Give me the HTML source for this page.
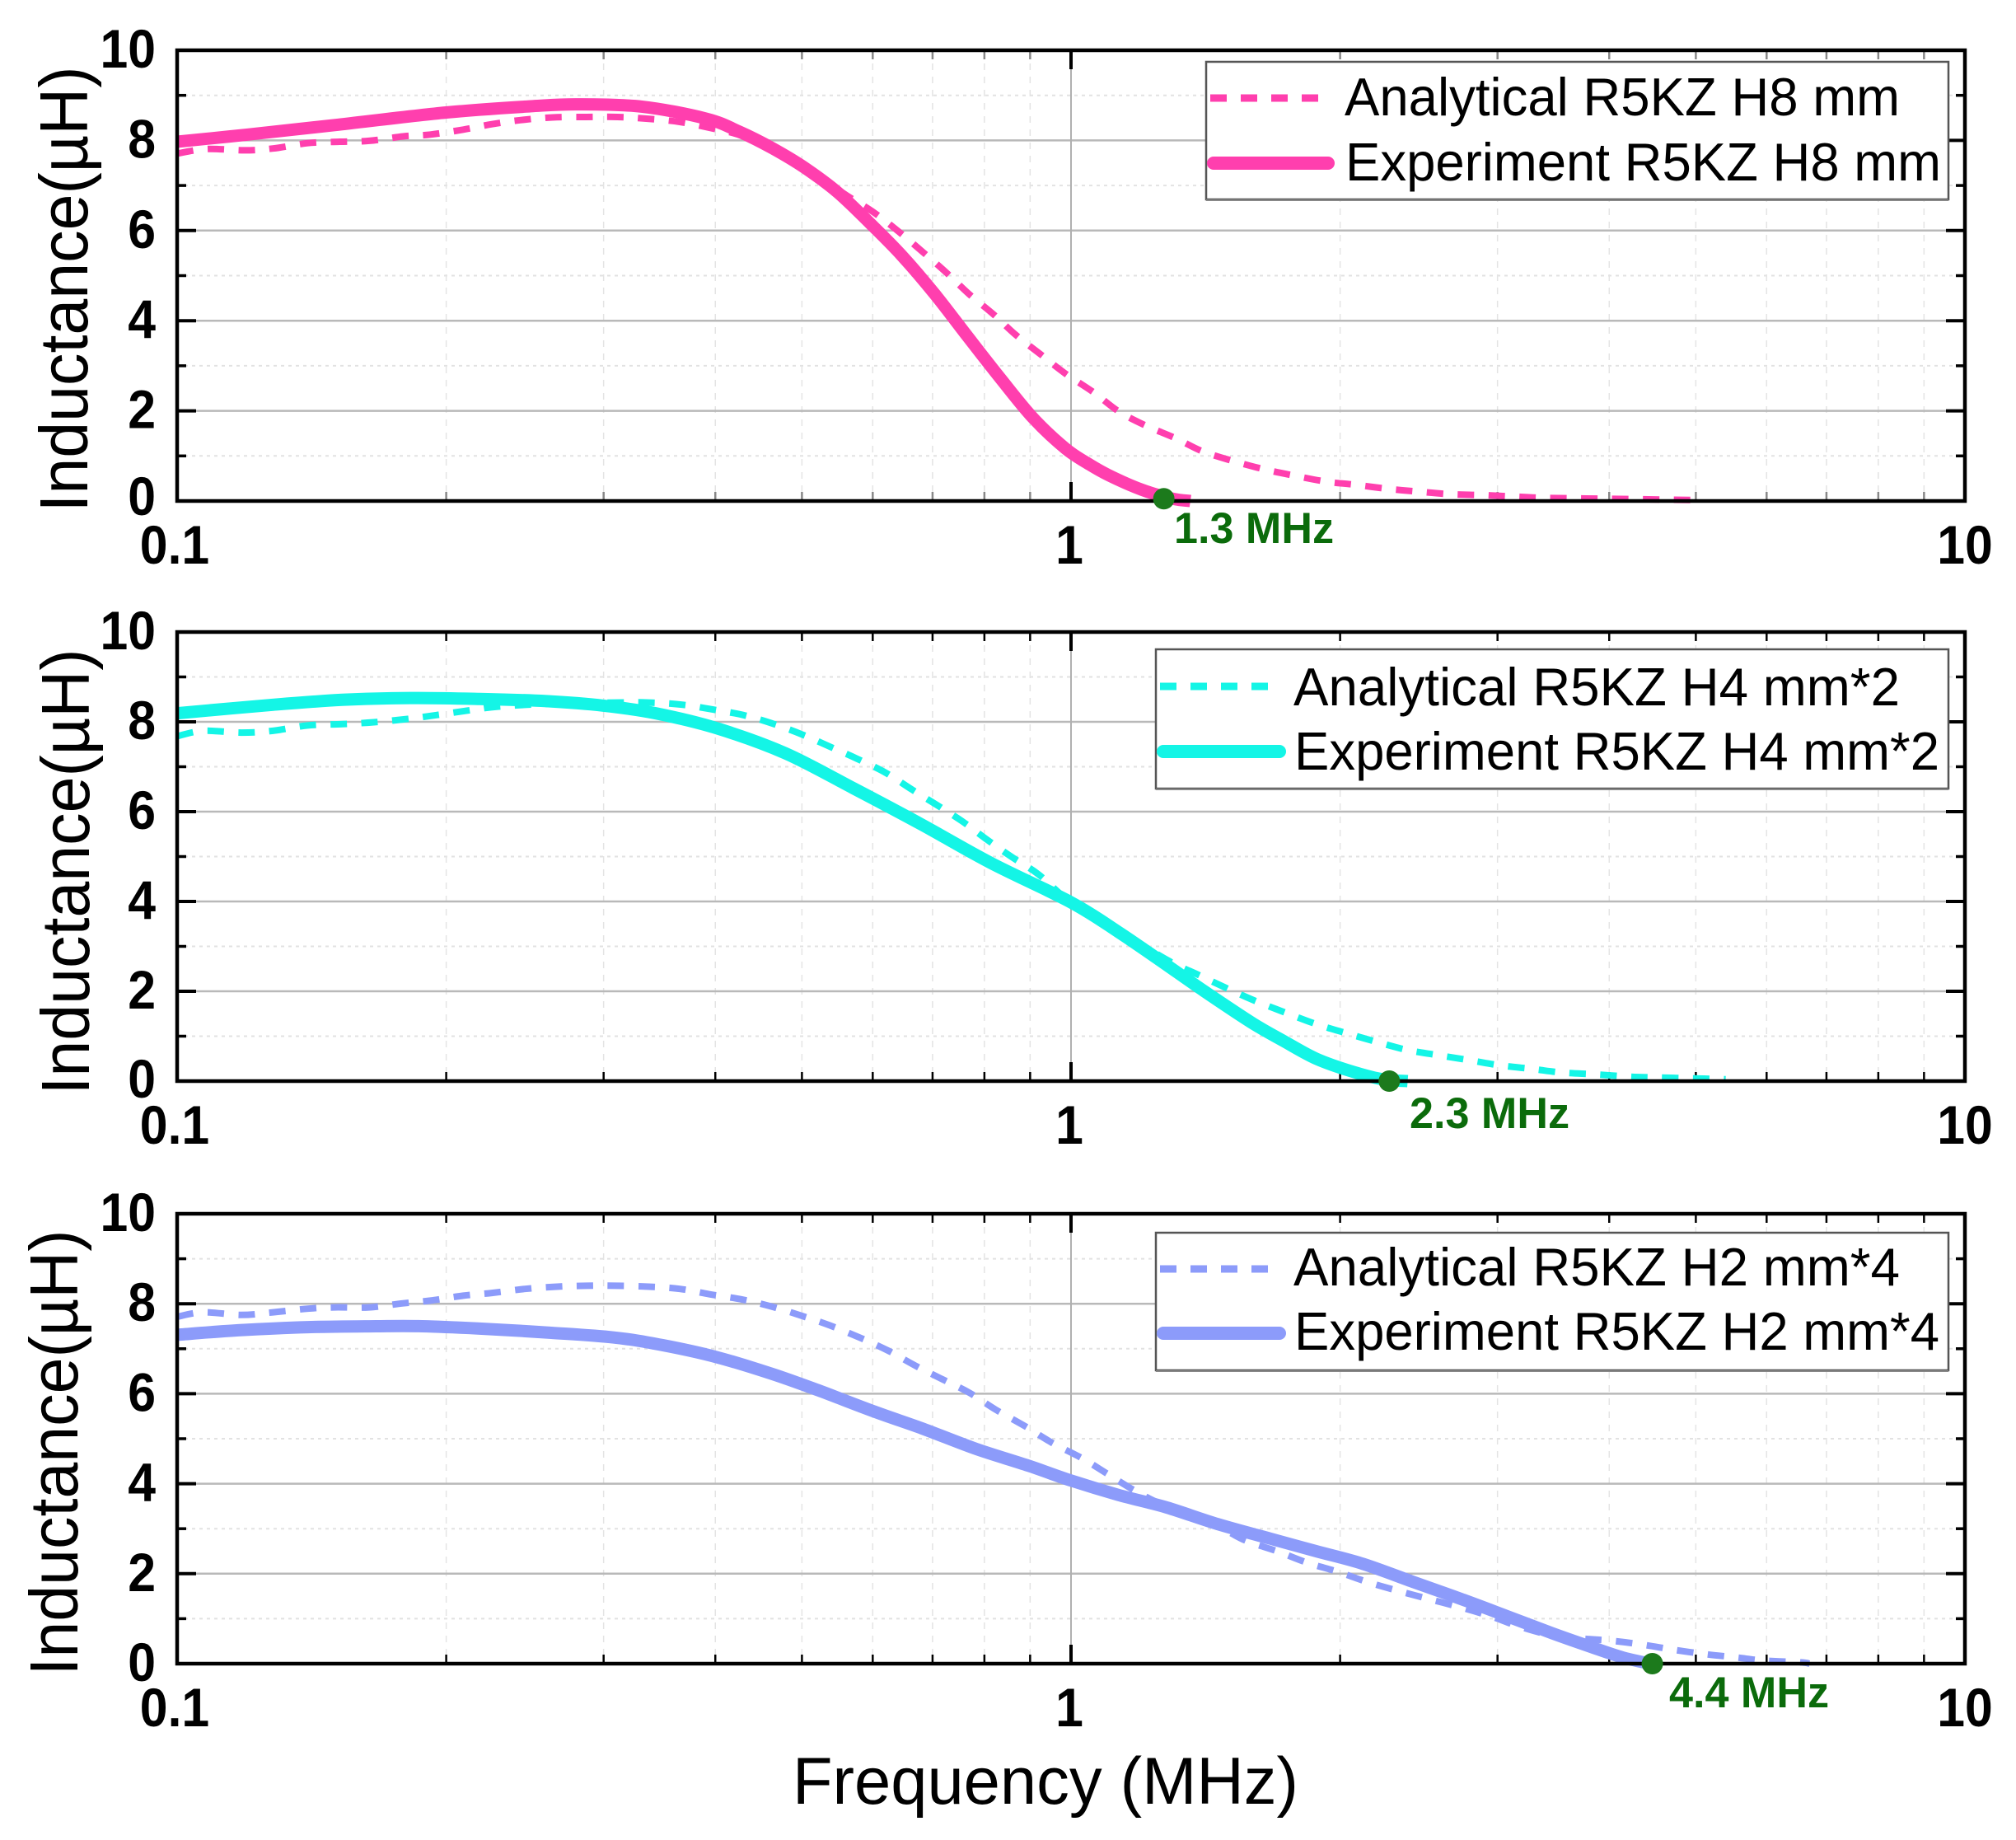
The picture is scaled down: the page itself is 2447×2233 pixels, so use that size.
<!DOCTYPE html>
<html lang="en">
<head>
<meta charset="utf-8">
<title>Inductance vs Frequency</title>
<style>
html,body{margin:0;padding:0;background:#fff;}
svg{display:block;}
text{font-family:"Liberation Sans",sans-serif;}
</style>
</head>
<body>
<svg id="chart" xmlns="http://www.w3.org/2000/svg" width="2447" height="2233" viewBox="0 0 2447 2233"></svg>
<script>
// ---- Shared axis labels ----
const yTickLabels = [0, 2, 4, 6, 8, 10];
const yMinorValues = [1, 3, 5, 7, 9];
const xTickLabels = [0.1, 1, 10];
const xMinorFreqs = [0.2, 0.3, 0.4, 0.5, 0.6, 0.7, 0.8, 0.9, 2, 3, 4, 5, 6, 7, 8, 9];

// ---- H8 mm ----
const h8AnalyticalFreq = [0.1,0.108,0.119,0.128,0.14,0.152,0.164,0.179,0.192,0.209,0.225,0.242,0.263,0.287,0.311,0.336,0.365,0.396,0.43,0.47,0.52,0.561,0.603,0.642,0.684,0.725,0.769,0.819,0.868,0.925,0.985,1.06,1.13,1.21,1.31,1.4,1.51,1.64,1.77,1.93,2.08,2.26,2.44,2.66,2.89,3.12,3.39,3.98,4.68,5.05];
const h8AnalyticalValue = [7.71,7.81,7.78,7.82,7.94,7.97,7.99,8.09,8.13,8.24,8.36,8.45,8.51,8.52,8.52,8.48,8.41,8.27,8.09,7.7,7.21,6.78,6.39,5.97,5.51,5.07,4.59,4.14,3.68,3.25,2.83,2.41,1.99,1.68,1.39,1.11,0.9,0.71,0.57,0.43,0.36,0.27,0.21,0.15,0.13,0.1,0.07,0.05,0.03,0.02];
const h8ExperimentFreq = [0.1,0.12,0.15,0.2,0.25,0.28,0.331,0.391,0.426,0.463,0.503,0.548,0.596,0.647,0.704,0.766,0.833,0.906,0.985,1.043,1.1,1.2,1.3,1.36];
const h8ExperimentValue = [7.97,8.13,8.34,8.62,8.76,8.8,8.75,8.48,8.19,7.83,7.4,6.85,6.16,5.44,4.59,3.65,2.73,1.85,1.17,0.84,0.58,0.25,0.05,0];

// ---- H4 mm*2 ----
const h4AnalyticalFreq = [0.1,0.107,0.118,0.128,0.14,0.153,0.166,0.182,0.195,0.213,0.229,0.26,0.309,0.337,0.368,0.401,0.43,0.462,0.5,0.537,0.576,0.62,0.664,0.714,0.76,0.806,0.86,0.92,1,1.13,1.28,1.39,1.5,1.61,1.74,1.88,2.03,2.2,2.38,2.57,2.8,3.02,3.28,3.54,3.85,4.2,4.52,4.97,5.4];
const h4AnalyticalValue = [7.68,7.8,7.76,7.8,7.92,7.95,7.99,8.07,8.15,8.26,8.34,8.4,8.43,8.43,8.38,8.26,8.15,7.97,7.72,7.45,7.18,6.87,6.49,6.1,5.75,5.37,4.98,4.6,3.98,3.36,2.7,2.36,2.05,1.78,1.52,1.27,1.07,0.87,0.69,0.58,0.46,0.35,0.27,0.19,0.15,0.1,0.08,0.06,0.04];
const h4ExperimentFreq = [0.1,0.128,0.153,0.182,0.218,0.259,0.3,0.343,0.401,0.479,0.571,0.681,0.813,1,1.13,1.255,1.41,1.59,1.73,1.88,2.05,2.23,2.38];
const h4ExperimentValue = [8.19,8.38,8.49,8.53,8.51,8.46,8.36,8.19,7.86,7.3,6.52,5.71,4.86,3.98,3.32,2.7,2.0,1.31,0.89,0.5,0.23,0.04,0];

// ---- H2 mm*4 ----
const h2AnalyticalFreq = [0.1,0.107,0.118,0.128,0.14,0.15,0.164,0.179,0.192,0.209,0.225,0.245,0.266,0.287,0.31,0.337,0.365,0.394,0.427,0.462,0.5,0.537,0.58,0.624,0.67,0.72,0.77,0.823,0.888,0.954,1.03,1.1,1.18,1.27,1.47,1.57,1.7,1.84,1.99,2.15,2.32,2.51,2.73,2.94,3.17,3.42,3.72,4.02,4.37,4.72,5.13,5.54,5.94,6.55,6.7];
const h2AnalyticalValue = [7.71,7.81,7.75,7.81,7.89,7.92,7.92,8.01,8.07,8.18,8.24,8.33,8.38,8.4,8.4,8.38,8.33,8.21,8.1,7.94,7.73,7.52,7.25,6.96,6.62,6.31,6.02,5.65,5.28,4.9,4.56,4.21,3.84,3.52,3.01,2.73,2.5,2.24,2.04,1.81,1.62,1.44,1.25,1.06,0.83,0.65,0.56,0.51,0.42,0.31,0.21,0.14,0.07,0.03,0];
const h2ExperimentFreq = [0.1,0.117,0.14,0.167,0.188,0.217,0.259,0.308,0.349,0.402,0.463,0.524,0.603,0.681,0.784,0.896,1,1.13,1.28,1.46,1.67,1.88,2.12,2.42,2.73,3.07,3.45,3.82,4.14,4.44];
const h2ExperimentValue = [7.31,7.41,7.48,7.5,7.5,7.45,7.36,7.25,7.08,6.81,6.44,6.06,5.6,5.23,4.77,4.4,4.07,3.75,3.47,3.1,2.78,2.5,2.22,1.81,1.44,1.06,0.68,0.37,0.14,0];

// ---- Cutoff markers ----
const cutoffFreqs = [1.27, 2.27, 4.47];
const cutoffValues = [0.05, 0, 0];
const cutoffLabels = ["1.3 MHz", "2.3 MHz", "4.4 MHz"];

const NS = "http://www.w3.org/2000/svg";
const svg = document.getElementById("chart");
const LEFT = 215, RIGHT = 2385;

function xScale(f){ return LEFT + (RIGHT - LEFT) * (Math.log10(f) + 1) / 2; }
function yScaleFor(p){ return function(v){ return p.bottom - (p.bottom - p.top) * v / 10; }; }

function make(tag, attrs, parent, txt){
  const n = document.createElementNS(NS, tag);
  for (const k in attrs) n.setAttribute(k, attrs[k]);
  if (txt !== undefined) n.textContent = txt;
  parent.appendChild(n);
  return n;
}
// Smooth curve through the data points (Catmull-Rom as cubic beziers)
function curveOf(freqs, values, y){
  const pts = freqs.map(function(f, i){ return [xScale(f), y(values[i])]; });
  let d = "M" + pts[0][0].toFixed(1) + " " + pts[0][1].toFixed(1);
  for (let i = 0; i < pts.length - 1; i++){
    const p0 = pts[Math.max(i - 1, 0)], p1 = pts[i], p2 = pts[i + 1], p3 = pts[Math.min(i + 2, pts.length - 1)];
    const c1x = p1[0] + (p2[0] - p0[0]) / 6, c1y = p1[1] + (p2[1] - p0[1]) / 6;
    const c2x = p2[0] - (p3[0] - p1[0]) / 6, c2y = p2[1] - (p3[1] - p1[1]) / 6;
    d += " C" + c1x.toFixed(1) + " " + c1y.toFixed(1) + " " + c2x.toFixed(1) + " " + c2y.toFixed(1) + " " + p2[0].toFixed(1) + " " + p2[1].toFixed(1);
  }
  return d;
}
function tickWidth(label, size){
  const s = String(label);
  let em = 0;
  for (const ch of s) em += ch === "." ? 0.278 : 0.556;
  return (em * size * 0.92).toFixed(1);
}

const panels = [
  {key:"h8", top:61, bottom:608, color:"#ff3fae", aF:h8AnalyticalFreq, aV:h8AnalyticalValue, eF:h8ExperimentFreq, eV:h8ExperimentValue,
   legend:{x:1464,y:75,w:901,h:167,tx:1632,aB:140,eB:219,aLen:674,eLen:723,dx1:1469,dx2:1602,sx1:1473,sx2:1612,dy:119,sy:198,a:"Analytical R5KZ H8 mm",e:"Experiment R5KZ H8 mm"},
   titleX:106, titleC:351, xLabelB:684, labelDx:1425, labelB:659, zeroShift:-6},
  {key:"h4", top:767, bottom:1312, color:"#14f5e6", aF:h4AnalyticalFreq, aV:h4AnalyticalValue, eF:h4ExperimentFreq, eV:h4ExperimentValue,
   legend:{x:1403,y:788,w:962,h:169,tx:1570,aB:856,eB:934,aLen:736,eLen:783,dx1:1408,dx2:1542,sx1:1412,sx2:1553,dy:833,sy:912,a:"Analytical R5KZ H4 mm*2",e:"Experiment R5KZ H4 mm*2"},
   titleX:108, titleC:1058, xLabelB:1388, labelDx:1711, labelB:1369, zeroShift:-3},
  {key:"h2", top:1473, bottom:2019, color:"#8c9bfa", aF:h2AnalyticalFreq, aV:h2AnalyticalValue, eF:h2ExperimentFreq, eV:h2ExperimentValue,
   legend:{x:1403,y:1496,w:962,h:167,tx:1570,aB:1560,eB:1638,aLen:736,eLen:783,dx1:1408,dx2:1542,sx1:1412,sx2:1553,dy:1540,sy:1618,a:"Analytical R5KZ H2 mm*4",e:"Experiment R5KZ H2 mm*4"},
   titleX:94, titleC:1763, xLabelB:2095, labelDx:2026, labelB:2072, zeroShift:-2}
];

panels.forEach(function(p, idx){
  const y = yScaleFor(p);
  const g = make("g", {}, svg);
  
  

  // grid
  const grid = make("g", {}, g);
  
  
  yMinorValues.forEach(function(v){
    make("line", {x1:LEFT, x2:RIGHT, y1:y(v), y2:y(v), stroke:"#e2e2e2", "stroke-width":2, "stroke-dasharray":"4 5"}, grid);
  });
  xMinorFreqs.forEach(function(f){
    make("line", {x1:xScale(f), x2:xScale(f), y1:p.top, y2:p.bottom, stroke:"#e4e4e4", "stroke-width":1.5, "stroke-dasharray":"8 8"}, grid);
  });
  yTickLabels.slice(1, 5).forEach(function(v){
    make("line", {x1:LEFT, x2:RIGHT, y1:y(v), y2:y(v), stroke:"#b9b9b9", "stroke-width":2.5}, grid);
  });
  make("line", {x1:xScale(1), x2:xScale(1), y1:p.top, y2:p.bottom, stroke:"#b0b0b0", "stroke-width":2}, grid);

  // ticks
  const ticks = make("g", {stroke:"#000"}, g);
  
  
  yTickLabels.forEach(function(v){
    make("line", {x1:LEFT, x2:LEFT + 23, y1:y(v), y2:y(v), "stroke-width":4}, ticks);
    make("line", {x1:RIGHT - 23, x2:RIGHT, y1:y(v), y2:y(v), "stroke-width":4}, ticks);
  });
  yMinorValues.forEach(function(v){
    make("line", {x1:LEFT, x2:LEFT + 11, y1:y(v), y2:y(v), "stroke-width":3.5}, ticks);
    make("line", {x1:RIGHT - 11, x2:RIGHT, y1:y(v), y2:y(v), "stroke-width":3.5}, ticks);
  });
  xMinorFreqs.forEach(function(f){
    const c = idx === 0 ? "#888" : "#000";
    make("line", {x1:xScale(f), x2:xScale(f), y1:p.top, y2:p.top + 11, "stroke-width":2.5, stroke:c}, ticks);
    make("line", {x1:xScale(f), x2:xScale(f), y1:p.bottom - 11, y2:p.bottom, "stroke-width":2.5, stroke:c}, ticks);
  });
  make("line", {x1:xScale(1), x2:xScale(1), y1:p.top, y2:p.top + 23, "stroke-width":4}, ticks);
  make("line", {x1:xScale(1), x2:xScale(1), y1:p.bottom - 23, y2:p.bottom, "stroke-width":4}, ticks);

  // series
  const analytical = make("path", {d:curveOf(p.aF, p.aV, y), fill:"none", stroke:p.color, "stroke-width":8, "stroke-dasharray":"20 17.5", "stroke-linejoin":"round"}, g);
  
  
  const experiment = make("path", {d:curveOf(p.eF, p.eV, y), fill:"none", stroke:p.color, "stroke-width":15, "stroke-linejoin":"round"}, g);
  
  

  // frame
  const frame = make("rect", {x:LEFT, y:p.top, width:RIGHT - LEFT, height:p.bottom - p.top, fill:"none", stroke:"#000", "stroke-width":4.5}, g);
  
  

  // y tick labels
  yTickLabels.forEach(function(v){
    const shift = v === 0 ? p.zeroShift : -2;
    const t = make("text", {x:189, y:y(v) + 23 + shift, "text-anchor":"end", "font-size":66, "font-weight":"bold", fill:"#000", textLength:tickWidth(v, 66), lengthAdjust:"spacingAndGlyphs"}, g, String(v));
    
    
  });
  // x tick labels
  xTickLabels.forEach(function(f){
    const t = make("text", {x:xScale(f) - (f === 1 ? 2 : f === 0.1 ? 3 : 0), y:p.xLabelB, "text-anchor":"middle", "font-size":66, "font-weight":"bold", fill:"#000", textLength:tickWidth(f, 66), lengthAdjust:"spacingAndGlyphs"}, g, String(f));
    
    
  });

  // y title
  const yt = make("text", {x:0, y:0, transform:"translate(" + p.titleX + "," + p.titleC + ") rotate(-90)", "text-anchor":"middle", "font-size":83, textLength:541, lengthAdjust:"spacingAndGlyphs", fill:"#000"}, g, "Inductance(\u00b5H)");
  
  

  // legend
  const L = p.legend;
  const lg = make("g", {}, g);
  
  
  make("rect", {x:L.x, y:L.y, width:L.w, height:L.h, fill:"#fff", stroke:"#555", "stroke-width":2.5}, lg);
  make("line", {x1:L.x, x2:L.x + L.w, y1:L.y + L.h + 1, y2:L.y + L.h + 1, stroke:"#888", "stroke-width":2}, lg);
  const ls1 = make("line", {x1:L.dx1, x2:L.dx2, y1:L.dy, y2:L.dy, stroke:p.color, "stroke-width":9, "stroke-dasharray":"20 17"}, lg);
  
  
  const ls2 = make("line", {x1:L.sx1, x2:L.sx2, y1:L.sy, y2:L.sy, stroke:p.color, "stroke-width":16, "stroke-linecap":"round"}, lg);
  
  
  const lt1 = make("text", {x:L.tx, y:L.aB, "font-size":65, textLength:L.aLen, lengthAdjust:"spacingAndGlyphs", fill:"#000"}, lg, L.a);
  
  
  const lt2 = make("text", {x:L.tx + 1, y:L.eB, "font-size":65, textLength:L.eLen, lengthAdjust:"spacingAndGlyphs", fill:"#000"}, lg, L.e);
  
  

  // cutoff marker
  const mk = make("circle", {cx:xScale(cutoffFreqs[idx]), cy:y(cutoffValues[idx]), r:13, fill:"#1c7a1c"}, g);
  
  
  const ml = make("text", {x:p.labelDx, y:p.labelB, "font-size":53, "font-weight":"bold", textLength:194, lengthAdjust:"spacingAndGlyphs", fill:"#0b6b0b"}, g, cutoffLabels[idx]);
  
  
});

const xt = make("text", {x:962, y:2189, "font-size":81, textLength:614, lengthAdjust:"spacingAndGlyphs", fill:"#000"}, svg, "Frequency (MHz)");


</script>
</body>
</html>
